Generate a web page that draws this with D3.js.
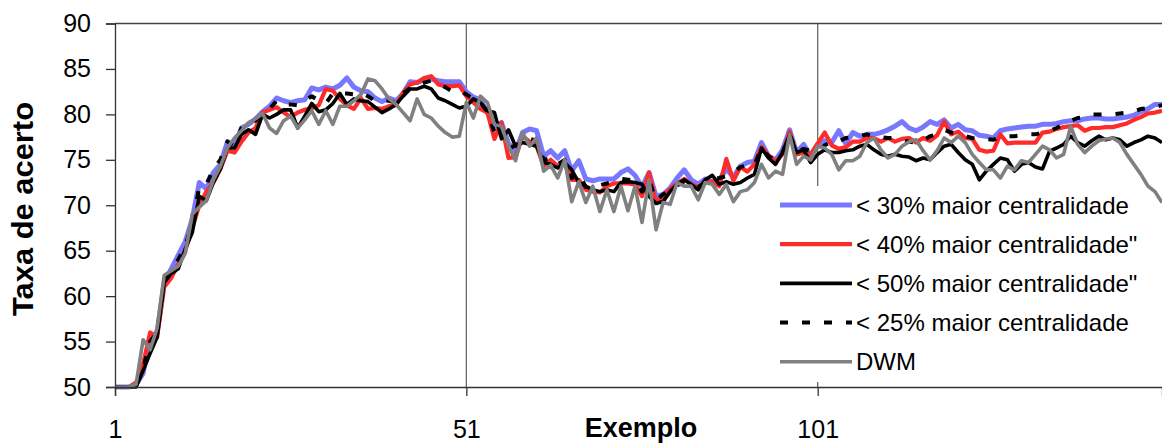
<!DOCTYPE html>
<html>
<head>
<meta charset="utf-8">
<script src="https://cdn.jsdelivr.net/npm/d3@7"></script>
<style>
  body { margin: 0; background: #fff; }
  svg { display: block; font-family: "Liberation Sans", Arial, sans-serif; }
</style>
</head>
<body>
<div class="viz"></div>
<script>
// x categories 1..150, labels every 50
const xTickValues = [1, 51, 101];
const yTickValues = [50, 55, 60, 65, 70, 75, 80, 85, 90];

const seriesNames = [
  "< 30% maior centralidade",
  "< 40% maior centralidade\"",
  "< 50% maior centralidade\"",
  "< 25% maior centralidade",
  "DWM"
];

// < 30% maior centralidade
const blueVals = [
  50, 50, 50, 50.3, 51.5, 55.5, 56, 61.5, 63, 64.5,
  66, 68.5, 72.5, 71.8, 73.6, 74.5, 77, 76.5, 78.5, 78.9,
  79.5, 80.3, 80.9, 81.8, 81.5, 81.3, 81.5, 81.6, 82.9, 82.7,
  83.0, 82.8, 83.2, 84.0, 83.0, 82.6, 82.5, 81.8, 81.4, 81.8,
  81.5, 82.3, 83.6, 83.5, 83.8, 83.9, 83.7, 83.6, 83.6, 83.6,
  82.5, 81.9, 81.6, 80.2, 78.5, 79.1, 76.8, 75.9, 78.0, 78.4,
  78.2, 75.4, 76.0, 75.2, 76.0, 73.8, 74.9, 72.9, 72.7, 72.9,
  72.9, 72.9, 73.6, 74.0, 73.3, 72.0, 73.6, 71.0, 71.2, 71.9,
  73.0, 73.9, 72.8, 72.3, 72.9, 72.6, 72.8, 74.0, 73.1, 74.3,
  74.7, 74.85, 76.9, 75.4, 75.0, 76.1, 78.3, 75.8, 76.7, 75.4,
  76.7, 77.1, 76.9, 78.2, 76.8, 78.0, 77.6, 77.8, 77.8, 78.0,
  78.3, 78.7, 79.2, 78.5, 78.2, 78.6, 79.2, 78.9, 79.4, 78.5,
  78.9, 78.3, 78.2, 77.7, 77.6, 77.4, 78.2, 78.4, 78.5, 78.6,
  78.7, 78.7, 78.9, 78.9, 79.0, 79.2, 79.3, 79.3, 79.5, 79.6,
  79.6, 79.5, 79.5, 79.6, 79.7, 79.9, 80.3, 80.6, 81.1, 81.1
];

// < 40% maior centralidade"
const redVals = [
  50, 50, 50, 50.5, 52.5, 56, 55.5, 61, 62, 63.5,
  65, 67.5, 70, 71.5, 72.5, 74, 76, 75.8, 77, 78,
  78.5, 80.2, 80.5, 80.8, 80.2, 79.7, 80.2, 80.5, 80.7, 81.0,
  82.8, 82.6, 81.7, 81.0, 80.6, 81.8, 80.6, 80.7, 80.6, 80.9,
  81.0, 82.4, 83.3, 83.5, 84.0, 84.2, 83.3, 83.1, 83.1, 83.2,
  82.0, 81.3, 80.6, 80.2, 77.3, 79.1, 75.2, 75.3, 77.6, 77.0,
  76.5, 74.3, 75.0, 74.3, 74.6, 72.8, 72.8, 71.7, 71.5, 71.4,
  72.1, 72.4, 72.4, 72.4, 72.3, 71.0, 73.6, 70.3, 71.0, 71.8,
  72.4, 72.9, 72.3, 72.0, 72.5, 72.6, 72.1, 75.1, 72.7, 74.2,
  73.7, 74.5, 76.4, 75.5, 74.8, 75.6, 78.1, 75.6, 75.8, 75.6,
  76.8, 78.0, 76.6, 76.2, 76.4, 77.0, 77.0, 77.4, 77.4, 77.0,
  77.4, 77.0, 77.3, 77.4, 76.9, 77.4, 77.1, 77.7, 79.2, 77.8,
  78.1, 77.4, 77.3, 76.1, 75.9, 76.0, 77.8, 76.8, 76.9, 76.9,
  76.9, 76.9, 78.0, 78.1, 78.4, 78.6, 78.7, 78.8, 78.2, 78.5,
  78.5, 78.6, 78.6, 78.8, 79.0, 79.4, 79.7, 80.1, 80.2, 80.4
];

// < 50% maior centralidade"
const blackVals = [
  50, 50, 50, 50, 51.8, 53.7, 55.5, 61.5, 62.5, 63,
  65.2, 67, 71, 70.5, 72.5, 74, 76.3, 76.3, 77.8, 78.3,
  77.8, 80.0, 79.6, 80.0, 80.5, 80.5, 78.5, 79.8, 81.2, 80.3,
  80.5, 81.2, 82.3, 81.1, 81.7, 81.5, 81.4, 80.8, 80.2, 80.6,
  81.1, 82.0, 82.8, 82.8, 83.1, 82.8, 81.8, 81.5, 81.1, 80.7,
  80.9, 81.7, 81.3, 80.4, 80.2, 77.3, 78.3, 76.5, 76.9, 76.7,
  76.5, 74.7, 74.5, 74.1, 74.7, 73.9, 72.5, 72.1, 71.7, 71.5,
  71.7, 71.5, 72.5, 72.6, 72.5, 72.3, 71.0, 70.2, 70.4, 71.5,
  72.3, 72.8, 72.3, 71.7, 72.8, 73.3, 72.3, 72.6, 72.3, 72.5,
  73.0, 73.4, 76.3, 75.2, 74.5, 75.8, 77.8, 75.8, 76.1, 74.7,
  75.6, 76.1, 75.8, 75.8, 76.0, 76.1, 76.5, 76.7, 76.1, 75.6,
  75.4, 75.6, 75.4, 75.3, 74.9, 75.2, 75.0, 75.8, 76.5, 76.7,
  75.8, 75.0, 74.5, 72.8, 73.75, 74.5, 75.2, 75.0, 73.75, 74.5,
  74.7, 74.2, 74.0, 75.95, 76.3, 76.7, 77.6, 76.9, 76.5, 77.1,
  77.6, 77.2, 77.4, 77.2, 76.5, 76.9, 77.2, 77.6, 77.4, 76.9
];

// < 25% maior centralidade
const dashVals = [
  50, 50, 50, 50.2, 52, 55, 56, 61.5, 63, 64,
  65.5, 68, 72, 72.3, 74, 75, 77, 76.5, 78.5, 79,
  79.3, 80.2, 80.6, 81.5, 81.1, 81.1, 81.0, 81.5, 82.0, 81.5,
  81.2, 82.3, 82.3, 82.3, 82.2, 82.4, 82.0, 81.5, 81.6, 81.5,
  81.3, 82.3, 82.9, 83.2, 83.5, 83.7, 83.4, 83.0, 82.5, 82.6,
  82.2, 81.7, 81.3, 80.3, 78.0, 78.6, 76.2, 76.6, 77.0, 77.3,
  77.1, 75.0, 75.2, 74.5, 75.0, 73.0, 73.5, 72.0, 72.0, 72.2,
  72.4, 72.6, 72.9, 72.8, 72.7, 71.5, 72.8, 70.5, 71.2, 71.6,
  72.2, 72.5, 72.0, 72.0, 72.5, 72.9, 73.0, 73.2, 73.6, 74.2,
  74.4, 74.4, 76.3, 75.4, 74.9, 75.8, 77.8, 75.9, 76.2, 76.0,
  75.9, 76.6, 77.0, 77.0, 77.4, 77.5, 77.6, 77.8, 77.5, 77.5,
  77.4, 77.4, 77.2, 77.0, 76.9, 77.1, 77.6, 77.8, 78.3, 78.0,
  77.9, 77.6, 77.4, 77.3, 77.3, 77.2, 77.6, 77.6, 77.6, 77.7,
  77.8, 77.8, 78.0, 78.2, 78.5, 78.9, 79.3, 79.6, 79.7, 80.0,
  80.0, 80.0, 80.0, 80.1, 80.2, 80.3, 80.6, 80.7, 80.8, 81.0
];

// DWM
const grayVals = [
  50, 50, 50, 50.3, 55.2, 54.1, 56.5, 62.3, 62.8, 63.3,
  64.7, 69.0, 69.8, 70.5, 72.8, 74.3, 76.3, 77.4, 78.2, 79.1,
  79.5, 80.1, 78.5, 77.9, 79.3, 79.8, 78.5, 79.4, 80.4, 78.9,
  80.4, 78.9, 80.9, 80.9, 81.5, 82.2, 83.9, 83.7, 82.8, 81.7,
  81.1, 80.2, 79.3, 81.7, 80.0, 79.6, 78.7, 78.0, 77.5, 77.6,
  81.3, 79.6, 82.0, 81.3, 78.9, 78.7, 76.5, 74.9, 78.0, 76.5,
  77.4, 73.75, 74.4, 73.0, 75.0, 70.4, 72.6, 70.3, 72.1, 69.3,
  71.7, 69.3, 72.1, 69.4, 72.1, 68.1, 72.8, 67.3, 70.3, 70.1,
  72.5, 72.1, 72.1, 70.6, 72.5, 72.3, 71.2, 72.3, 70.4, 71.5,
  71.7, 72.5, 74.5, 73.0, 73.75, 73.4, 77.8, 74.5, 75.4, 75.0,
  76.5, 76.3, 75.6, 73.9, 74.9, 74.9, 75.4, 76.9, 77.4, 76.1,
  75.2, 75.6, 76.5, 77.0, 77.2, 76.0, 75.0, 76.0, 77.4, 76.9,
  77.6, 76.9, 75.6, 74.7, 73.9, 73.9, 73.0, 74.3, 73.9, 74.9,
  74.7, 75.6, 76.5, 76.1, 75.2, 75.6, 78.7, 76.7, 75.8, 76.5,
  77.1, 77.3, 77.4, 76.9, 75.6, 74.5, 73.4, 72.1, 71.5, 70.3
];

function drawChart() {
  // 1. dimensions
  const dimensions = {
    width: 1162,
    height: 443,
    margin: { top: 23.5, right: 0, bottom: 56, left: 115 }
  };
  dimensions.boundedWidth = dimensions.width - dimensions.margin.left - dimensions.margin.right;
  dimensions.boundedHeight = dimensions.height - dimensions.margin.top - dimensions.margin.bottom;

  // 2. canvas
  const wrapper = d3.select(".viz")
    .append("svg")
    .attr("width", dimensions.width)
    .attr("height", dimensions.height);

  const bounds = wrapper.append("g")
    .attr("transform", `translate(${dimensions.margin.left},${dimensions.margin.top})`);

  // 3. scales
  const xScale = d3.scaleLinear()
    .domain([1, blueVals.length])
    .range([0, dimensions.boundedWidth]);

  const yScale = d3.scaleLinear()
    .domain([50, 90])
    .range([dimensions.boundedHeight, 0]);

  // 4. vertical gridlines at the labelled categories + top border
  bounds.selectAll(".vgrid")
    .data(xTickValues.slice(1))
    .join("line")
    .attr("x1", d => xScale(d))
    .attr("x2", d => xScale(d))
    .attr("y1", 0)
    .attr("y2", dimensions.boundedHeight)
    .attr("stroke", "#6a6a6a")
    .attr("stroke-width", 1.3);

  bounds.append("line")
    .attr("x1", 0)
    .attr("x2", dimensions.boundedWidth)
    .attr("y1", yScale(90))
    .attr("y2", yScale(90))
    .attr("stroke", "#444")
    .attr("stroke-width", 1.3);

  // 5. lines
  const series = [
    { name: seriesNames[0], values: blueVals, color: "#7878ff", width: 5, dash: null },
    { name: seriesNames[1], values: redVals, color: "#ff2a2a", width: 4.2, dash: null },
    { name: seriesNames[2], values: blackVals, color: "#000", width: 3.6, dash: null },
    { name: seriesNames[3], values: dashVals, color: "#000", width: 4, dash: "8,14" },
    { name: seriesNames[4], values: grayVals, color: "#808080", width: 3.6, dash: null }
  ];

  const lineGenerator = d3.line()
    .x((d, i) => xScale(i + 1))
    .y(d => yScale(d));

  series.forEach(s => {
    bounds.append("path")
      .attr("d", lineGenerator(s.values))
      .attr("fill", "none")
      .attr("stroke", s.color)
      .attr("stroke-width", s.width)
      .attr("stroke-linejoin", "round")
      .attr("stroke-dasharray", s.dash);
  });

  // 6. axes
  const yAxisGenerator = d3.axisLeft(yScale)
    .tickValues(yTickValues)
    .tickSize(9)
    .tickPadding(15);
  const yAxis = bounds.append("g").call(yAxisGenerator);
  yAxis.selectAll("text")
    .style("font-size", "25px")
    .attr("fill", "#000");

  const xAxisGenerator = d3.axisBottom(xScale)
    .tickValues(xTickValues)
    .tickSize(9)
    .tickPadding(24);
  const xAxis = bounds.append("g")
    .attr("transform", `translate(0,${dimensions.boundedHeight})`)
    .call(xAxisGenerator);
  xAxis.selectAll("text")
    .style("font-size", "25px")
    .attr("fill", "#000");

  [yAxis, xAxis].forEach(ax => {
    ax.select(".domain").attr("stroke", "#333").attr("stroke-width", 1.3);
    ax.selectAll(".tick line").attr("stroke", "#333").attr("stroke-width", 1.3);
  });

  // 7. axis titles
  wrapper.append("text")
    .attr("transform", `translate(33,${209}) rotate(-90)`)
    .attr("text-anchor", "middle")
    .attr("textLength", 214)
    .attr("lengthAdjust", "spacingAndGlyphs")
    .style("font-size", "29px")
    .style("font-weight", "bold")
    .text("Taxa de acerto");

  wrapper.append("text")
    .attr("x", 641)
    .attr("y", 437)
    .attr("text-anchor", "middle")
    .style("font-size", "27px")
    .style("font-weight", "bold")
    .text("Exemplo");

  // 8. legend
  const legend = wrapper.append("g").attr("transform", "translate(772,186)");
  legend.append("rect")
    .attr("width", 368)
    .attr("height", 196)
    .attr("fill", "#fff");

  const rows = legend.selectAll(".row")
    .data(series)
    .join("g")
    .attr("transform", (d, i) => `translate(0,${19 + i * 39.2})`);

  rows.append("line")
    .attr("x1", 8)
    .attr("x2", 80)
    .attr("stroke", d => d.color)
    .attr("stroke-width", d => d.width)
    .attr("stroke-dasharray", d => d.dash);

  rows.append("text")
    .attr("x", 84)
    .attr("dy", "0.36em")
    .style("font-size", "24px")
    .text(d => d.name);
}

drawChart();
</script>
</body>
</html>
